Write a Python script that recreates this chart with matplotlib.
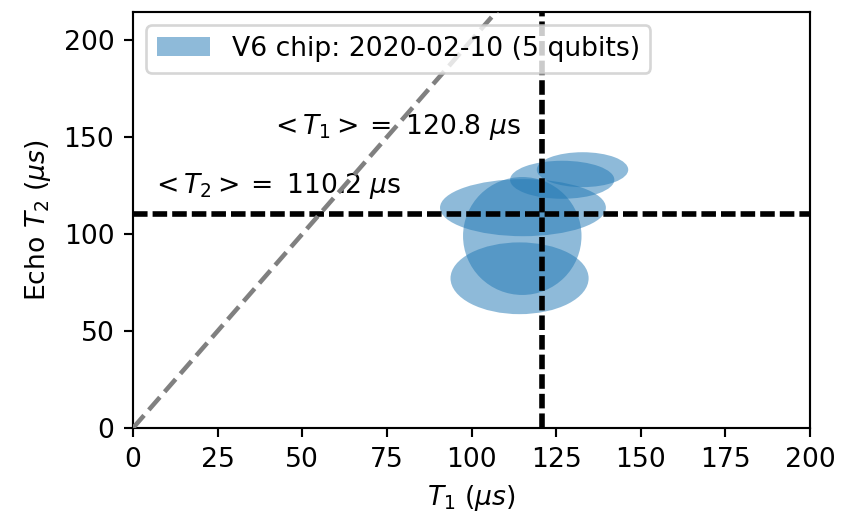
import matplotlib
matplotlib.use('Agg')
import matplotlib.pyplot as plt
import matplotlib.patches as patches
import numpy as np

# per-qubit coherence: mean and spread (us)
t1_mean = [115.0, 114.2, 115.2, 126.8, 132.8]
t1_err = [17.5, 20.4, 24.5, 15.4, 13.5]
t2_mean = [99.0, 77.2, 113.6, 128.0, 133.2]
t2_err = [30.4, 18.5, 14.7, 9.8, 9.0]

chip_label = 'V6 chip: 2020-02-10 (5 qubits)'

avg_t1 = np.mean(t1_mean)
avg_t2 = np.mean(t2_mean)

DPI = 192
fig = plt.figure(figsize=(844/DPI, 513/DPI), dpi=DPI)
ax = fig.add_axes([0.1576, 0.1657, 0.8021, 0.8109])

for x, dx, y, dy in zip(t1_mean, t1_err, t2_mean, t2_err):
	e = patches.Ellipse((x, y), width=2*dx, height=2*dy, facecolor='C0', alpha=0.5, edgecolor='none')
	ax.add_patch(e)

# T2 <= 2 T1 limit
lim = np.array([0, 200])
ax.plot(lim, 2*lim, color='gray', linestyle='--', linewidth=1.7, zorder=4)

ax.axvline(avg_t1, color='k', linestyle=(0, (2.6, 0.9)), linewidth=2.1, zorder=3)
ax.axhline(avg_t2, color='k', linestyle=(0, (2.6, 0.9)), linewidth=2.1, zorder=3)

ax.text(40.5, 155, r'$<T_1> =$ %.1f $\mu$s' % avg_t1, ha='left', va='center')
ax.text(5.2, 125, r'$<T_2> =$ %.1f $\mu$s' % avg_t2, ha='left', va='center')

handle = patches.Patch(facecolor='C0', alpha=0.5, label=chip_label)
ax.legend(handles=[handle], loc='upper left')

ax.set_xlim(0, 200)
ax.set_ylim(0, 214.5)
ax.set_xticks(np.arange(0, 201, 25))
ax.set_yticks(np.arange(0, 201, 50))
ax.set_xlabel(r'$T_1$ ($\mu s$)')
ax.set_ylabel(r'Echo $T_2$ ($\mu s$)')

fig.savefig('out.png', dpi=DPI)
